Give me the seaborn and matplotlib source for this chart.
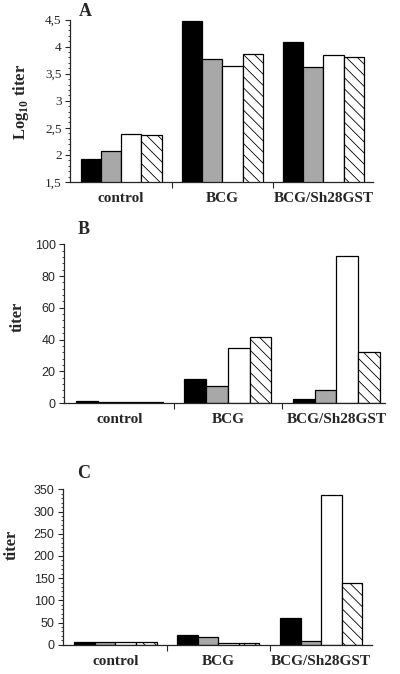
import matplotlib
matplotlib.use("Agg")
import matplotlib.pyplot as plt
import seaborn as sns
import pandas as pd
from matplotlib.ticker import MultipleLocator

groups = ["control", "BCG", "BCG/Sh28GST"]
series = ["s1", "s2", "s3", "s4"]

valsA = {"s1": [1.92, 4.48, 4.09],
         "s2": [2.08, 3.77, 3.63],
         "s3": [2.39, 3.65, 3.84],
         "s4": [2.37, 3.87, 3.81]}
valsB = {"s1": [1.0, 15.0, 2.3],
         "s2": [0.9, 10.5, 8.2],
         "s3": [0.9, 34.5, 92.4],
         "s4": [0.9, 41.5, 32.0]}
valsC = {"s1": [5.0, 21.0, 60.0],
         "s2": [5.0, 18.0, 8.0],
         "s3": [5.0, 4.0, 337.0],
         "s4": [5.0, 3.0, 139.0]}

ticksA = [1.5, 2, 2.5, 3, 3.5, 4, 4.5]
ticklabelsA = ["1,5", "2", "2,5", "3", "3,5", "4", "4,5"]
ticksB = [0, 20, 40, 60, 80, 100]
ticksC = [0, 50, 100, 150, 200, 250, 300, 350]

colors = ["#000000", "#a8a8a8", "#ffffff", "#ffffff"]

sns.set_style("ticks")
plt.rcParams["font.family"] = ["Liberation Serif", "DejaVu Serif"]
plt.rcParams["mathtext.fontset"] = "custom"
plt.rcParams["mathtext.rm"] = "Liberation Serif:bold"
plt.rcParams["mathtext.bf"] = "Liberation Serif:bold"
plt.rcParams["hatch.linewidth"] = 0.6

fig = plt.figure(figsize=(4.0, 6.74), dpi=100)


def long_df(vals):
    rows = []
    for s in series:
        for g, v in zip(groups, vals[s]):
            rows.append({"group": g, "series": s, "value": v})
    return pd.DataFrame(rows)


def panel(rect, vals, xlim, ylim, yticks, yticklabels, minor, tickfont, ticksize,
          ylabel, letter, letter_pos, ylabel_x):
    ax = fig.add_axes(rect)
    df = long_df(vals)
    sns.barplot(data=df, x="group", y="value", hue="series", order=groups,
                hue_order=series, palette=colors, width=0.8, saturation=1,
                edgecolor="black", linewidth=0.9, legend=False, ax=ax, errorbar=None)
    for p in ax.containers[3]:
        p.set_hatch("\\\\\\")
    ax.set_xlim(*xlim)
    ax.set_ylim(*ylim)
    sns.despine(ax=ax)
    for sp in ["left", "bottom"]:
        ax.spines[sp].set_linewidth(0.9)
    ax.set_yticks(yticks)
    ax.set_yticklabels(yticklabels, family=tickfont, fontsize=ticksize)
    ax.yaxis.set_minor_locator(MultipleLocator(minor))
    ax.tick_params(axis="y", which="major", direction="out", length=3.5, width=0.8, pad=2.5)
    ax.tick_params(axis="y", which="minor", direction="out", length=1.8, width=0.6)
    ax.set_xticks([0.5, 1.5])
    ax.set_xticklabels([])
    ax.set_xticks([0, 1, 2], minor=True)
    ax.set_xticklabels(groups, minor=True, fontsize=11, fontweight="bold",
                       family=["Liberation Serif", "DejaVu Serif"])
    ax.tick_params(axis="x", which="major", direction="out", length=4, width=0.8)
    ax.tick_params(axis="x", which="minor", length=0, pad=7.5)
    ax.set_xlabel("")
    ax.set_ylabel("")
    fig.text(ylabel_x[0] / 400, 1 - ylabel_x[1] / 674, ylabel, rotation=90,
             ha="center", va="center", fontsize=12, fontweight="bold",
             family=["Liberation Serif", "DejaVu Serif"])
    fig.text(letter_pos[0] / 400, 1 - letter_pos[1] / 674, letter, ha="left", va="center",
             fontsize=13, fontweight="bold", family=["Liberation Serif", "DejaVu Serif"])
    return ax


panel([70 / 400, 1 - 182 / 674, 303 / 400, 162.5 / 674], valsA, (-0.504, 2.489), (1.5, 4.5),
      ticksA, ticklabelsA, 0.1, ["Liberation Serif", "DejaVu Serif"], 9.5,
      r"Log$_{\mathrm{10}}$ titer", "A", (79, 12), (21, 102))
panel([64 / 400, 1 - 403 / 674, 321 / 400, 158.7 / 674], valsB, (-0.51, 2.447), (0, 100),
      ticksB, [str(t) for t in ticksB], 4, ["Liberation Sans", "DejaVu Sans"], 9,
      "titer", "B", (78, 229), (18, 317))
panel([63 / 400, 1 - 644.7 / 674, 309 / 400, 155.4 / 674], valsC, (-0.51, 2.495), (0, 350),
      ticksC, [str(t) for t in ticksC], 10, ["Liberation Sans", "DejaVu Sans"], 9,
      "titer", "C", (77, 474), (12, 545))

fig.savefig("out.png", dpi=100, facecolor="white")
